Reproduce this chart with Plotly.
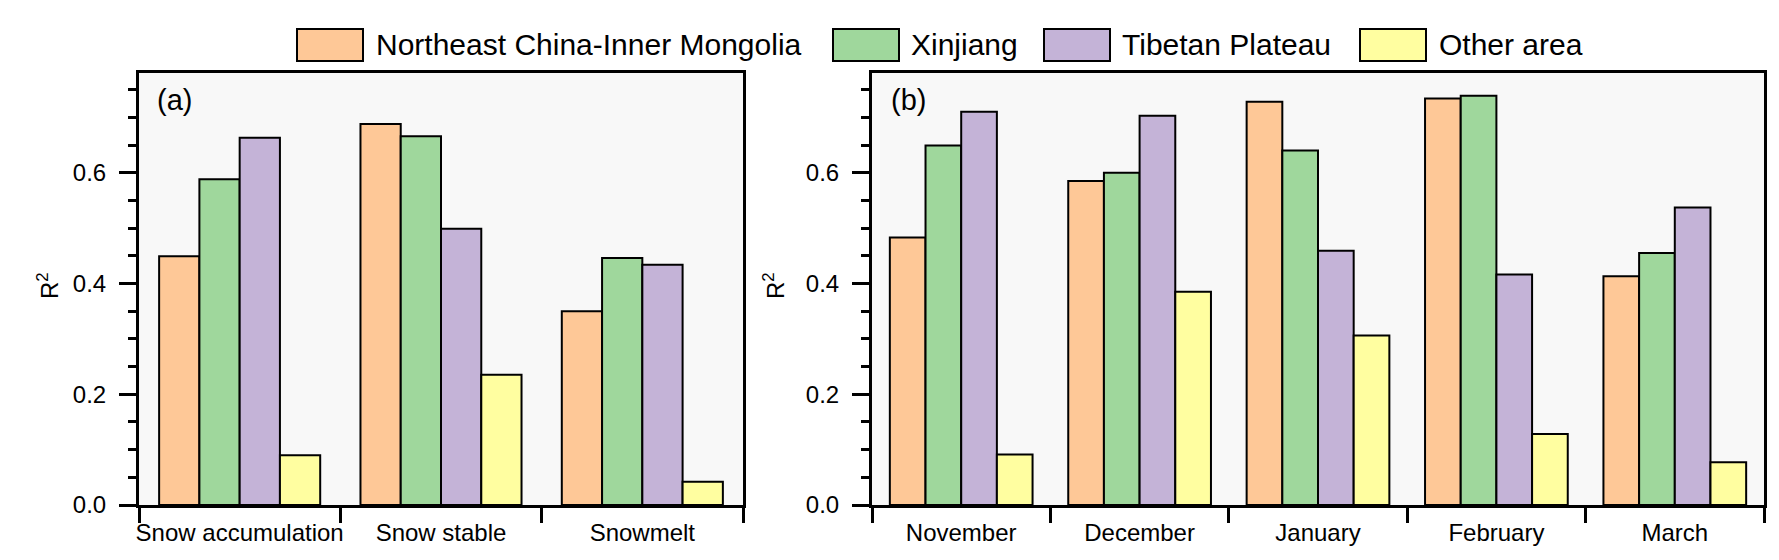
import plotly.graph_objects as go

W, H = 1779, 560

regions = ["Northeast China-Inner Mongolia", "Xinjiang", "Tibetan Plateau", "Other area"]
colors = ["#FEC897", "#9FD79C", "#C4B3D7", "#FFFEA0"]

# panel (a): snow periods
stages = ["Snow accumulation", "Snow stable", "Snowmelt"]
stage_ne = [0.449, 0.688, 0.350]
stage_xj = [0.588, 0.666, 0.446]
stage_tp = [0.663, 0.499, 0.434]
stage_other = [0.090, 0.235, 0.042]

# panel (b): months
months = ["November", "December", "January", "February", "March"]
month_ne = [0.483, 0.585, 0.728, 0.734, 0.413]
month_xj = [0.649, 0.600, 0.640, 0.739, 0.455]
month_tp = [0.710, 0.703, 0.459, 0.416, 0.537]
month_other = [0.091, 0.385, 0.306, 0.128, 0.077]

y_ticks = [0.0, 0.2, 0.4, 0.6]

FONT = "Arial, Liberation Sans, sans-serif"


def px_x(p):
    return p / W


def px_y(p):
    return 1 - p / H


fig = go.Figure()

stage_vals = [stage_ne, stage_xj, stage_tp, stage_other]
month_vals = [month_ne, month_xj, month_tp, month_other]
for name, col, sv, mv in zip(regions, colors, stage_vals, month_vals):
    fig.add_trace(go.Bar(x=stages, y=sv, name=name, marker_color=col,
                         marker_line=dict(color="black", width=2),
                         xaxis="x", yaxis="y", showlegend=False))
    fig.add_trace(go.Bar(x=months, y=mv, name=name, marker_color=col,
                         marker_line=dict(color="black", width=2),
                         xaxis="x2", yaxis="y2", showlegend=False))

xcommon = dict(type="category", showline=True, linewidth=3, linecolor="black",
               mirror=True, ticks="outside", tickson="boundaries", ticklen=15,
               tickwidth=3, tickcolor="black", showgrid=False, zeroline=False,
               automargin=False, ticklabelstandoff=4, tickangle=0,
               tickfont=dict(family=FONT, size=24, color="black"))
ycommon = dict(range=[0, 0.78], tickvals=y_ticks, tickformat=".1f",
               showline=True, linewidth=3, linecolor="black", mirror=True,
               ticks="outside", ticklen=17, tickwidth=3, tickcolor="black",
               minor=dict(dtick=0.05, ticks="outside", ticklen=8, tickwidth=3,
                          tickcolor="black", showgrid=False),
               showgrid=False, zeroline=False, automargin=False,
               ticklabelstandoff=8,
               tickfont=dict(family=FONT, size=24, color="black"),
               domain=[px_y(497), px_y(65)])

fig.update_layout(
    width=W, height=H,
    template="none",
    margin=dict(l=0, r=0, t=0, b=0),
    paper_bgcolor="white",
    plot_bgcolor="#F8F8F8",
    barmode="group", bargap=0.2, bargroupgap=0,
    xaxis=dict(domain=[px_x(131), px_x(735)], anchor="y", **xcommon),
    xaxis2=dict(domain=[px_x(864), px_x(1756)], anchor="y2", **xcommon),
    yaxis=dict(anchor="x", **ycommon),
    yaxis2=dict(anchor="x2", **ycommon),
)

annotations = [
    dict(text="(a)", x=px_x(147), y=px_y(92), xanchor="left", yanchor="middle",
         font=dict(family=FONT, size=29, color="black")),
    dict(text="(b)", x=px_x(881), y=px_y(92), xanchor="left", yanchor="middle",
         font=dict(family=FONT, size=29, color="black")),
    dict(text="R<sup>2</sup>", x=px_x(40), y=px_y(278), textangle=-90,
         xanchor="center", yanchor="middle",
         font=dict(family=FONT, size=24, color="black")),
    dict(text="R<sup>2</sup>", x=px_x(766), y=px_y(278), textangle=-90,
         xanchor="center", yanchor="middle",
         font=dict(family=FONT, size=24, color="black")),
]

# legend drawn by hand so the swatches can be as large as in the original
box_left = [289, 825, 1036, 1352]
text_left = [366, 901, 1112, 1429]
shapes = []
for name, col, bx, tx in zip(regions, colors, box_left, text_left):
    shapes.append(dict(type="rect", xref="paper", yref="paper",
                       x0=px_x(bx), x1=px_x(bx + 66), y0=px_y(53), y1=px_y(21),
                       fillcolor=col, line=dict(color="black", width=2)))
    annotations.append(dict(text=name, x=px_x(tx), y=px_y(37), xanchor="left",
                            yanchor="middle",
                            font=dict(family=FONT, size=30, color="black")))

for a in annotations:
    a.update(xref="paper", yref="paper", showarrow=False)

fig.update_layout(annotations=annotations, shapes=shapes)

fig.write_html("out.html")
